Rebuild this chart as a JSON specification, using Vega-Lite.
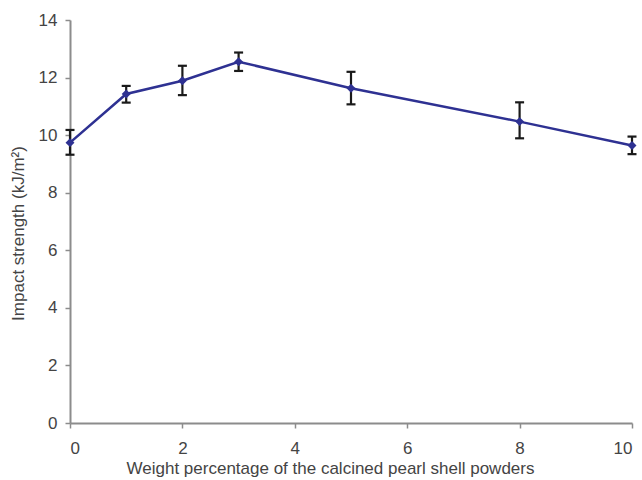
{
  "$schema": "https://vega.github.io/schema/vega-lite/v6.json",
  "autosize": "none",
  "width": 562,
  "height": 403,
  "padding": {"left": 70, "top": 20, "right": 10, "bottom": 57},
  "background": "white",
  "config": {
    "view": {"stroke": null},
    "font": "Liberation Sans"
  },
  "data": {
    "values": [
      {"w": 0, "s": 9.74, "lo": 9.32, "hi": 10.18},
      {"w": 1, "s": 11.43, "lo": 11.13, "hi": 11.71},
      {"w": 2, "s": 11.89, "lo": 11.39, "hi": 12.41},
      {"w": 3, "s": 12.55, "lo": 12.23, "hi": 12.87},
      {"w": 5, "s": 11.63, "lo": 11.07, "hi": 12.2},
      {"w": 8, "s": 10.47, "lo": 9.89, "hi": 11.14},
      {"w": 10, "s": 9.64, "lo": 9.34, "hi": 9.95}
    ]
  },
  "encoding": {
    "x": {
      "field": "w", "type": "quantitative",
      "scale": {"domain": [0, 10], "nice": false, "zero": false},
      "axis": {
        "title": "Weight percentage of the calcined pearl shell powders",
        "values": [0, 2, 4, 6, 8, 10],
        "format": "d",
        "grid": false,
        "domainColor": "#8c8c8c", "domainWidth": 2,
        "tickColor": "#8c8c8c", "tickWidth": 1.5, "tickSize": 5,
        "labelColor": "#444444", "labelFontSize": 17, "labelPadding": 12,
        "titleColor": "#444444", "titleFontSize": 17, "titleFontWeight": "normal", "titlePadding": 4,
        "titleX": 260
      }
    }
  },
  "layer": [
    {
      "mark": {"type": "rule", "strokeWidth": 2.2, "color": "#1a1a1a"},
      "encoding": {
        "y": {"field": "lo", "type": "quantitative", "scale": {"domain": [0, 14], "nice": false}, "title": "Impact strength (kJ/m²)"},
        "y2": {"field": "hi"}
      }
    },
    {
      "mark": {"type": "tick", "orient": "horizontal", "size": 9, "thickness": 2.2, "color": "#1a1a1a", "opacity": 1},
      "encoding": {
        "y": {"field": "lo", "type": "quantitative", "title": "Impact strength (kJ/m²)"}
      }
    },
    {
      "mark": {"type": "tick", "orient": "horizontal", "size": 9, "thickness": 2.2, "color": "#1a1a1a", "opacity": 1},
      "encoding": {
        "y": {"field": "hi", "type": "quantitative", "title": "Impact strength (kJ/m²)"}
      }
    },
    {
      "mark": {"type": "line", "color": "#2e3192", "strokeWidth": 2.5},
      "encoding": {
        "y": {
          "field": "s", "type": "quantitative",
          "scale": {"domain": [0, 14], "nice": false},
          "title": "Impact strength (kJ/m²)",
          "axis": {
            "values": [0, 2, 4, 6, 8, 10, 12, 14],
            "grid": false,
            "domainColor": "#8c8c8c", "domainWidth": 2,
            "tickColor": "#8c8c8c", "tickWidth": 1.5, "tickSize": 5,
            "labelColor": "#444444", "labelFontSize": 17, "labelPadding": 8,
            "titleColor": "#444444", "titleFontSize": 17, "titleFontWeight": "normal", "titlePadding": 11,
            "titleY": 213
          }
        }
      }
    },
    {
      "mark": {"type": "point", "shape": "diamond", "filled": true, "color": "#2e3192", "size": 80, "opacity": 1},
      "encoding": {
        "y": {"field": "s", "type": "quantitative", "title": "Impact strength (kJ/m²)"}
      }
    }
  ]
}
